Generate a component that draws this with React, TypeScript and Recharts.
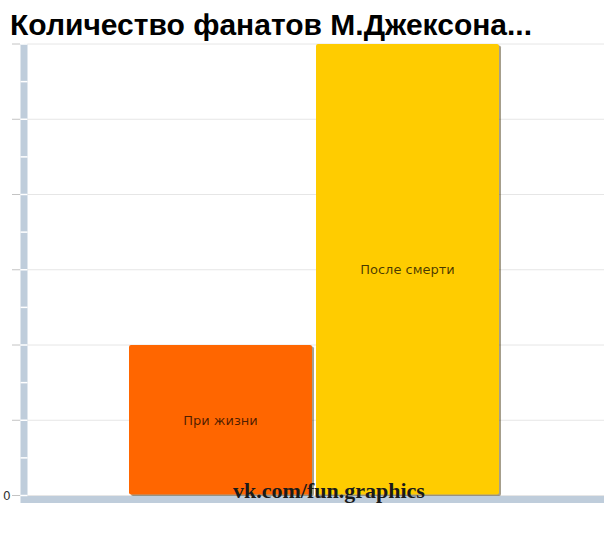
import React from "react"
import { BarChart, Bar, XAxis, YAxis, CartesianGrid, LabelList } from "recharts"

// Fans count, before and after
const categories = [""]
const seriesNames = ["При жизни", "После смерти"]
const lifeValues = [2]
const afterValues = [6]
const yTicks = [0, 0.5, 1, 1.5, 2, 2.5, 3, 3.5, 4, 4.5, 5, 5.5, 6]
const gridValues = [0, 1, 2, 3, 4, 5, 6]

const data = categories.map((name, i) => ({ name, life: lifeValues[i], after: afterValues[i] }))

const AXIS_COLOR = "#BFCDDB"
const AXIS_X = 24

const renderYTick = (props: any) => {
  const { y, payload } = props
  const v = payload.value
  const major = Number.isInteger(v)
  return (
    <g>
      {v === 0 && <rect x={AXIS_X - 3.5} y={y} width={7} height={7.5} fill={AXIS_COLOR} />}
      <line x1={AXIS_X - 3.5} x2={AXIS_X + 3.5} y1={y} y2={y} stroke="#fff" strokeWidth={1.5} />
      {major && <line x1={12} x2={20} y1={y} y2={y} stroke="#c4c4c4" />}
      {v === 0 && (
        <text x={3} y={y + 4.5} fontSize={12} fontFamily="DejaVu Sans, sans-serif" fill="#333">
          0
        </text>
      )}
    </g>
  )
}

const ShadowBar = (props: any) => {
  const { x, y, width, height, fill } = props
  if (!height) return null
  return (
    <g>
      <rect x={x + 2} y={y + 1.5} width={width} height={height - 1} rx={2} fill="#3a2a00" fillOpacity={0.45} />
      <rect x={x} y={y} width={width} height={height - 1} rx={2} fill={fill} />
    </g>
  )
}

export default function App() {
  return (
    <div style={{ position: "absolute", left: 0, top: 0, width: 604, height: 533, background: "#fff" }}>
      <BarChart
        width={604}
        height={533}
        data={data}
        margin={{ top: 44, right: 0, bottom: 0, left: 0 }}
        barSize={183}
        barGap={4}
      >
        <CartesianGrid vertical={false} horizontalValues={gridValues} stroke="#e6e6e6" />
        <XAxis
          dataKey="name"
          height={37.5}
          tick={false}
          tickLine={false}
          axisLine={{ stroke: AXIS_COLOR, strokeWidth: 7, transform: "translate(0,4)" }}
        />
        <YAxis
          width={AXIS_X}
          domain={[0, 6]}
          ticks={yTicks}
          interval={0}
          tickLine={false}
          axisLine={{ stroke: AXIS_COLOR, strokeWidth: 7 }}
          tick={renderYTick}
        />
        <Bar dataKey="life" name={seriesNames[0]} fill="#FF6600" shape={ShadowBar} isAnimationActive={false}>
          <LabelList
            dataKey="life"
            position="center"
            formatter={() => seriesNames[0]}
            fill="#000"
            fillOpacity={0.7}
            fontSize={13}
            fontFamily="DejaVu Sans, sans-serif"
          />
        </Bar>
        <Bar dataKey="after" name={seriesNames[1]} fill="#FFCC00" shape={ShadowBar} isAnimationActive={false}>
          <LabelList
            dataKey="after"
            position="center"
            formatter={() => seriesNames[1]}
            fill="#000"
            fillOpacity={0.72}
            fontSize={13}
            fontFamily="DejaVu Sans, sans-serif"
          />
        </Bar>
      </BarChart>
      <div
        style={{
          position: "absolute",
          left: 10,
          top: 10,
          fontFamily: "'Liberation Sans', Arial, sans-serif",
          fontWeight: "bold",
          fontSize: 30,
          lineHeight: 1,
          color: "#000",
          whiteSpace: "nowrap",
        }}
      >
        Количество фанатов М.Джексона...
      </div>
      <div
        style={{
          position: "absolute",
          left: 233,
          top: 480,
          fontFamily: "'Liberation Serif', 'Times New Roman', serif",
          fontWeight: "bold",
          fontSize: 22,
          lineHeight: 1,
          color: "#1a1a1a",
          whiteSpace: "nowrap",
        }}
      >
        vk.com/fun.graphics
      </div>
    </div>
  )
}
